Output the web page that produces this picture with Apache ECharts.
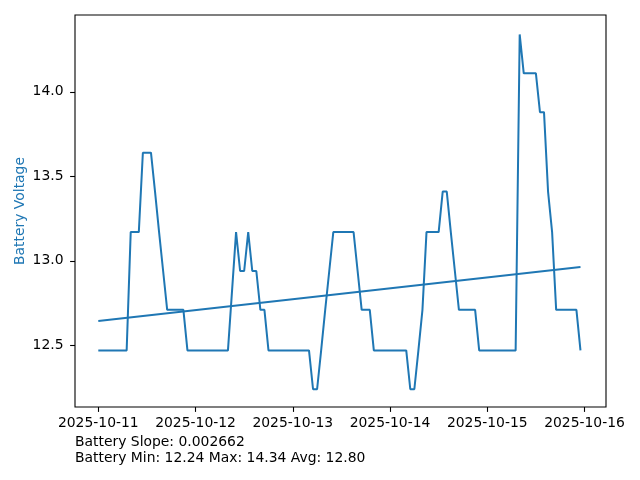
<!DOCTYPE html>
<html>
<head>
<meta charset="utf-8">
<script src="https://cdn.jsdelivr.net/npm/echarts@6/dist/echarts.min.js"></script>
<style>
  html, body { margin: 0; padding: 0; background: #fff; }
  #chart { width: 640px; height: 480px; }
</style>
</head>
<body>
<div id="chart"></div>
<script>
// ---- data ----
const startDate = '2025-10-11T00:00:00Z';
const hours = [
  0,1,2,3,4,5,6,7,8,9,10,11,12,13,14,15,16,17,18,19,20,21,22,23,24,25,26,27,28,29,30,31,32,
  34,35,36,37,38,39,40,41,42,43,44,45,46,47,48,49,50,51,52,53,54,55,56,57,58,59,60,61,62,63,
  64,65,66,67,68,69,70,71,72,73,74,75,76,77,78,79,80,81,82,83,84,85,86,87,88,89,90,91,92,93,
  94,95,96,97,98,99,100,101,102,103,104,105,106,107,108,109,110,111,112,113,114,115,116,117,118,119
];
const voltage = [
  12.47,12.47,12.47,12.47,12.47,12.47,12.47,12.47,13.17,13.17,13.17,13.64,13.64,13.64,13.41,13.17,12.94,
  12.71,12.71,12.71,12.71,12.71,12.47,12.47,12.47,12.47,12.47,12.47,12.47,12.47,12.47,12.47,12.47,
  13.17,12.94,12.94,13.17,12.94,12.94,12.71,12.71,12.47,12.47,12.47,12.47,12.47,12.47,12.47,12.47,12.47,12.47,12.47,
  12.24,12.24,12.47,12.71,12.94,13.17,13.17,13.17,13.17,13.17,13.17,
  12.94,12.71,12.71,12.71,12.47,12.47,12.47,12.47,12.47,12.47,12.47,12.47,12.47,12.24,12.24,12.47,12.71,
  13.17,13.17,13.17,13.17,13.41,13.41,13.17,12.94,12.71,12.71,12.71,12.71,12.71,
  12.47,12.47,12.47,12.47,12.47,12.47,12.47,12.47,12.47,12.47,14.34,14.11,14.11,14.11,14.11,13.88,13.88,
  13.41,13.17,12.71,12.71,12.71,12.71,12.71,12.71,12.47
];
const trendHours = [0, 119];
const trendValues = [12.644, 12.964];
const xTickLabels = ['2025-10-11','2025-10-12','2025-10-13','2025-10-14','2025-10-15','2025-10-16'];
const yTickValues = [12.5, 13.0, 13.5, 14.0];
const statLines = ['Battery Slope: 0.002662', 'Battery Min: 12.24 Max: 14.34 Avg: 12.80'];
const yAxisTitle = 'Battery Voltage';

// ---- build ----
const HOUR = 3600 * 1000;
const t0 = Date.parse(startDate);
const lineData = hours.map((h, i) => [t0 + h * HOUR, voltage[i]]);
const trendData = trendHours.map((h, i) => [t0 + h * HOUR, trendValues[i]]);
const xTicks = xTickLabels.map(s => Date.parse(s + 'T00:00:00Z'));
const xMin = t0 - 5.75 * HOUR;
const xMax = t0 + 125.3 * HOUR;

const FONT = 'DejaVu Sans';
const FS = 13.9;
const BLUE = '#1f77b4';

const chart = echarts.init(document.getElementById('chart'), null, { renderer: 'canvas' });
chart.setOption({
  animation: false,
  backgroundColor: '#fff',
  grid: {
    left: 75, right: 34, top: 15, bottom: 73,
    show: true, borderColor: '#000', borderWidth: 1.1, backgroundColor: 'transparent'
  },
  xAxis: {
    type: 'value',
    min: xMin, max: xMax,
    axisLine: { show: false },
    splitLine: { show: false },
    axisTick: { show: true, length: 4.9, lineStyle: { color: '#000', width: 1.1 }, customValues: xTicks },
    axisLabel: {
      customValues: xTicks,
      margin: 9.5,
      color: '#000', fontFamily: FONT, fontSize: FS,
      hideOverlap: false,
      formatter: v => new Date(v).toISOString().slice(0, 10)
    }
  },
  yAxis: {
    type: 'value',
    min: 12.135, max: 14.455,
    name: yAxisTitle,
    nameLocation: 'middle',
    nameGap: 48,
    nameMoveOverlap: false,
    nameTextStyle: { color: BLUE, fontFamily: FONT, fontSize: FS },
    axisLine: { show: false },
    splitLine: { show: false },
    axisTick: { show: true, length: 4.9, lineStyle: { color: '#000', width: 1.1 }, customValues: yTickValues },
    axisLabel: {
      customValues: yTickValues,
      margin: 11.5,
      color: '#000', fontFamily: FONT, fontSize: FS,
      formatter: v => v.toFixed(1)
    }
  },
  series: [
    {
      type: 'line', data: lineData, showSymbol: false, symbol: 'none',
      lineStyle: { color: BLUE, width: 2 }, itemStyle: { color: BLUE }
    },
    {
      type: 'line', data: trendData, showSymbol: false, symbol: 'none',
      lineStyle: { color: BLUE, width: 2 }, itemStyle: { color: BLUE }
    }
  ],
  graphic: statLines.map((s, i) => ({
    type: 'text',
    left: 75,
    top: 435.5 + i * 16,
    style: { text: s, fill: '#000', font: FS + 'px "' + FONT + '"' }
  }))
});
</script>
</body>
</html>
